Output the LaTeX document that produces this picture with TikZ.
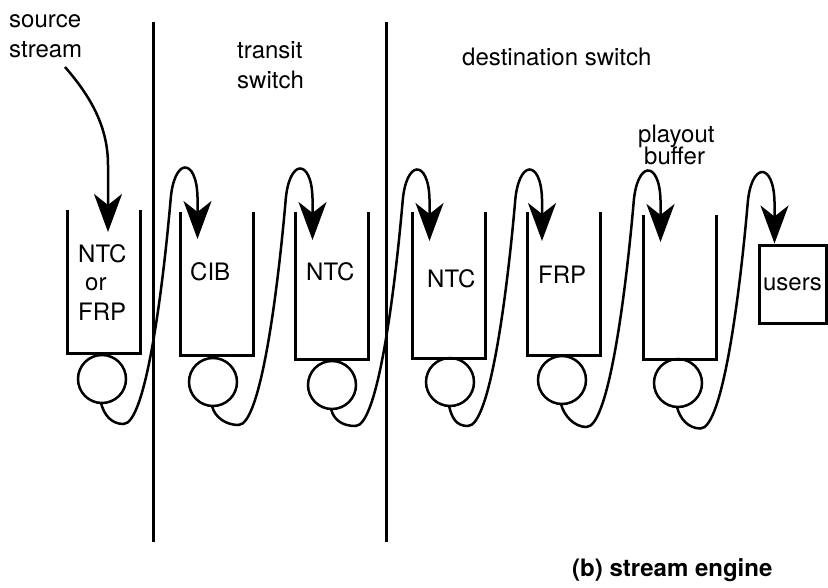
\documentclass[tikz,border=0pt]{standalone}
\usepackage{fontspec}
\setmainfont{TeX Gyre Heros}
\usetikzlibrary{arrows.meta,calc}
\begin{document}
\begin{tikzpicture}[x=1pt,y=-1pt,
  wall/.style={line width=3pt, line join=miter},
  queue/.style={draw=none, minimum width=73pt, inner sep=0pt, outer sep=0pt},
  server/.style={circle, draw, line width=2.5pt, minimum size=48pt, inner sep=0pt},
  flow/.style={line width=2.5pt, -{Stealth[length=38pt,width=28pt,inset=11pt]}},
  lbl/.style={anchor=base west, inner sep=0pt, font=\fontsize{24}{28}\selectfont},
]
\useasboundingbox (0,0) rectangle (828,587);

% switch boundaries
\draw[wall] (153,22) -- (153,542);
\draw[wall] (386,22) -- (386,542);

% buffers (open at the top)
\node[queue, minimum height=143pt] (b1) at (103.5,281.5) {};
\node[queue, minimum height=143pt] (b2) at (217,283.5) {};
\node[queue, minimum height=147pt] (b3) at (332,285.5) {};
\node[queue, minimum height=146pt] (b4) at (449,285) {};
\node[queue, minimum height=143pt] (b5) at (563.5,283.5) {};
\node[queue, minimum height=144pt] (b6) at (680,287) {};
\foreach \b in {b1,b2,b3,b4,b5,b6}
  \draw[wall] (\b.north west) -- (\b.south west) -- (\b.south east) -- (\b.north east);

% servers below the buffers
\node[server] (c1) at (102,379) {};
\node[server] (c2) at (213,382) {};
\node[server] (c3) at (332,385) {};
\node[server] (c4) at (450,382) {};
\node[server] (c5) at (562,380) {};
\node[server] (c6) at (678,383) {};

% users
\node[draw, line width=3pt, minimum width=67pt, minimum height=78pt, inner sep=0pt,
      font=\fontsize{24}{28}\selectfont] (users) at (792.5,284) {users};

% arrow targets
\coordinate (src) at (65,67);
\coordinate (e1) at ($(b1.north west)+(41,22)$);
\coordinate (e2) at ($(b2.north west)+(17,27)$);
\coordinate (e3) at ($(b3.north west)+(17,28)$);
\coordinate (e4) at ($(b4.north west)+(17,29)$);
\coordinate (e5) at ($(b5.north west)+(15,29)$);
\coordinate (e6) at ($(b6.north west)+(17,27)$);
\coordinate (e7) at ($(users.north west)+(17,0)$);

% source stream
\draw[flow] (src) .. controls (92,98) and (108,128) .. (108,165) -- (e1);

% server output looping into the next stage
\foreach \c/\e in {c1/e2, c2/e3, c3/e4, c4/e5, c5/e6, c6/e7}
  \draw[flow] ($(\c.center)+(-1,24)$)
    .. controls ($(\c.center)+(2,36)$) and ($(\e)+(-86,185)$) .. ($(\e)+(-74,185)$)
    .. controls ($(\e)+(-52,185)$) and ($(\e)+(-35,53)$) .. ($(\e)+(-27,-38)$)
    .. controls ($(\e)+(-24,-82)$) and ($(\e)+(-1,-82)$) .. ($(\e)+(0,-42)$)
    -- (\e);

% labels
\node[lbl] (t1) at (9,27) {source};
\node[lbl] (t2) at (9,57) {stream};
\node[lbl] (t3) at (237,58) {transit};
\node[lbl] (t4) at (237,88) {switch};
\node[lbl] (t5) at (462,65) {destination switch};
\node[lbl] (t6) at (638,142) {playout};
\node[lbl] (t7) at (644,164) {buffer};
\node[lbl, font=\bfseries\fontsize{24}{28}\selectfont] (t8) at (572,576) {(b) stream engine};

\node[lbl] (q1a) at (78,262) {NTC};
\node[lbl] (q1b) at (85,290) {or};
\node[lbl] (q1c) at (78,320) {FRP};
\node[lbl] (q2) at (190,280) {CIB};
\node[lbl] (q3) at (306,280) {NTC};
\node[lbl] (q4) at (427,287) {NTC};
\node[lbl] (q5) at (538,283) {FRP};
\end{tikzpicture}
\end{document}
